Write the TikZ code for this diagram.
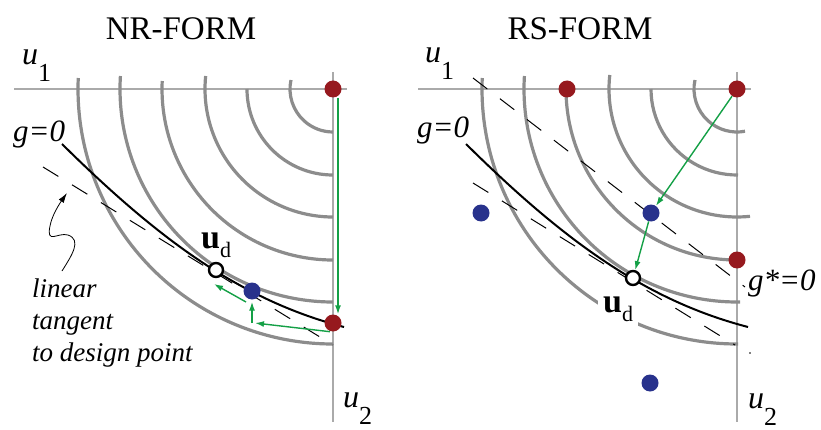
\documentclass[tikz,border=0pt]{standalone}
\usepackage{fontspec}
\setmainfont{Liberation Serif}
\usepackage{tikz}
\usetikzlibrary{arrows.meta}

\definecolor{dotred}{RGB}{150,25,30}
\definecolor{dotblue}{RGB}{40,50,140}
\definecolor{itergreen}{RGB}{20,160,70}
\definecolor{arcgray}{RGB}{140,140,140}
\definecolor{axisgray}{RGB}{170,170,170}

\newcommand{\axlab}[2]{\textit{#1}\raisebox{-17pt}{\fontsize{26}{30}\selectfont #2}}
\newcommand{\udlab}{\textbf{u}\raisebox{-9pt}{\fontsize{22}{26}\selectfont d}}

\tikzset{
  axisline/.style={axisgray, line width=1.6pt},
  contour/.style={arcgray, line width=3.2pt},
  limitstate/.style={black, line width=2pt},
  tangent/.style={black, line width=1pt, dash pattern=on 18pt off 16pt},
  reddot/.style={circle, fill=dotred, inner sep=0pt, minimum size=17pt},
  bluedot/.style={circle, fill=dotblue, inner sep=0pt, minimum size=17pt},
  design/.style={circle, draw=black, fill=white, line width=2.4pt, inner sep=0pt, minimum size=14pt},
  iter/.style={itergreen, line width=1.4pt, -{Latex[length=9pt,width=6pt]}},
  title/.style={font=\fontsize{33}{40}\selectfont, anchor=base},
  axlabel/.style={font=\fontsize{32}{36}\selectfont, anchor=base west, inner sep=0pt},
  glabel/.style={font=\fontsize{31}{36}\selectfont\itshape, anchor=base west, inner sep=0pt},
  udlabel/.style={font=\fontsize{34}{38}\selectfont, anchor=base west, inner sep=0pt}
}

\begin{document}
\begin{tikzpicture}[x=1pt, y=1pt]
\useasboundingbox (0,0) rectangle (821,429);

% NR-FORM
\begin{scope}[shift={(333,340)}]
\draw[axisline] (-319,0) -- (14,0);
\draw[axisline] (0,17) -- (0,-333);
\foreach \r/\h in {43/9, 86/0, 128/13, 171/8, 213/13, 255/11} {
    \draw[contour] ({180-asin(\h/\r)}:\r) arc[start angle={180-asin(\h/\r)}, end angle=270, radius=\r];
}
\draw[tangent] (-290,-78) -- (0,-256);
\draw[limitstate] (-271,-55) .. controls (-171,-154) and (-89,-212) .. (11,-238);

\node[reddot] (rtopL) at (0,0) {};
\node[reddot] (rbotL) at (0,-234) {};
\node[bluedot] (blueL) at (-81,-202) {};
\node[design] (udL) at (-117,-181) {};
\coordinate (kinkL) at (-81,-234);

\draw[iter] ([xshift=5pt]rtopL.south) -- ([xshift=5pt]rbotL.north);
\draw[iter] ([xshift=-3pt]rbotL.south) -- ([xshift=3pt]kinkL);
\draw[iter] (kinkL) -- ([yshift=-2pt]blueL.south);
\draw[iter] ([shift={(-6,-11)}]blueL.center) -- ([shift={(-2,-14)}]udL.center);

\node[title] (titleL) at (-152,49) {NR-FORM};
\node[axlabel] (u1L) at (-311,24) {\axlab{u}{1}};
\node[axlabel] (u2L) at (10,-318) {\axlab{u}{2}};
\node[glabel] (gL) at (-320,-53) {g=0};
\node[udlabel] (udtextL) at (-132,-159) {\udlab};
\node[font=\fontsize{27}{32}\selectfont\itshape, align=left, anchor=north west, inner sep=0pt]
    (tangtext) at (-301,-190) {linear\\tangent\\to design point};
\coordinate (tipL) at (-266,-104);
\draw[black, line width=0.8pt, -{Latex[length=10pt,width=6pt]}]
    ([shift={(30,8)}]tangtext.north west) .. controls (-261,-166) and (-251,-151) .. (-265,-146)
    .. controls (-275,-143) and (-287,-156) .. (-283,-137)
    .. controls (-281,-126) and (-273,-114) .. (tipL);
\end{scope}

% RS-FORM
\begin{scope}[shift={(737,340)}]
\draw[axisline] (-319,0) -- (14,0);
\draw[axisline] (0,17) -- (0,-333);
\foreach \r/\h/\e in {43/9/8, 86/0/1, 128/14/13, 171/0/0, 213/13/3, 255/11/1} {
    \draw[contour] ({180-asin(\h/\r)}:\r) arc[start angle={180-asin(\h/\r)}, end angle={270+asin(\e/\r)}, radius=\r];
}
\draw[tangent] (-264,-94) -- (-2,-256);
\draw[tangent] (-264,11) -- (8,-198);
\draw[limitstate] (-271,-55) .. controls (-171,-154) and (-89,-212) .. (11,-238);

\node[reddot] (rcornR) at (0,0) {};
\node[reddot] (raxisR) at (-170,0) {};
\node[reddot] (rvertR) at (0,-171) {};
\node[bluedot] (b1R) at (-256,-124) {};
\node[bluedot] (b2R) at (-86,-124) {};
\node[bluedot] (b3R) at (-87,-294) {};
\node[design] (udR) at (-104,-189) {};
\fill[black] (13,-264) circle (0.8);

\draw[iter] (rcornR) -- (b2R);
\draw[iter] (b2R) -- (udR);

\node[title] (titleR) at (-157,49) {RS-FORM};
\node[axlabel] (u1R) at (-312,26) {\axlab{u}{1}};
\node[axlabel] (u2R) at (11,-319) {\axlab{u}{2}};
\node[glabel] (gR) at (-320,-49) {g=0};
\node[glabel] (gstarR) at (11,-201) {g*=0};
\node[udlabel, fill=white, inner sep=5pt] (udtextR) at (-139,-223) {\udlab};
\end{scope}
\end{tikzpicture}
\end{document}
